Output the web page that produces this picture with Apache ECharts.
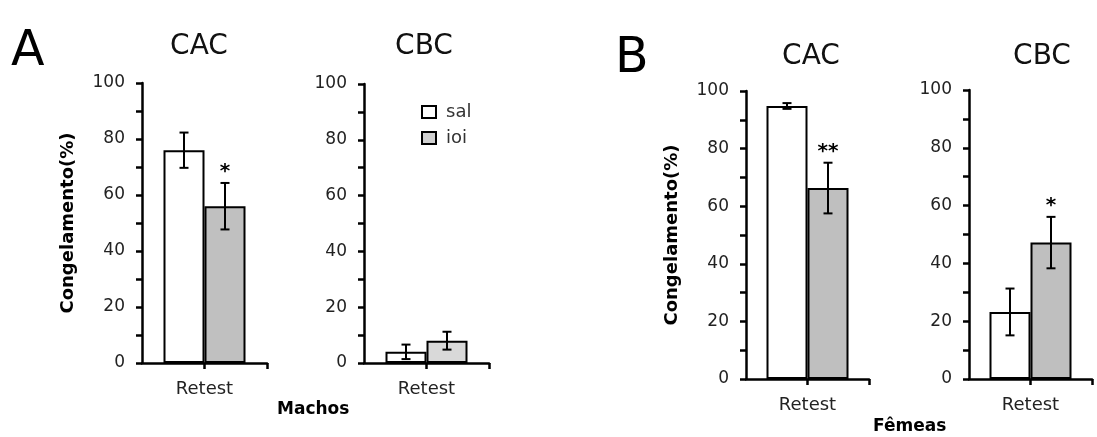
<!DOCTYPE html>
<html>
<head>
<meta charset="utf-8">
<script src="https://cdn.jsdelivr.net/npm/echarts@6/dist/echarts.min.js"></script>
<style>
  html, body { margin: 0; padding: 0; background: #fff; }
  #chart { width: 1097px; height: 437px; }
</style>
</head>
<body>
<div id="chart"></div>
<script>
    // ===== data =====
    var categories = ['Retest'];
    var panelTitles = ['CAC', 'CBC', 'CAC', 'CBC'];
    var salMeans = [76, 4, 94.8, 23.2];
    var salErr = [6.3, 2.6, 1.0, 8.1];
    var ioiMeans = [56, 8, 66.3, 47.2];
    var ioiErr = [8.3, 3.2, 8.8, 8.9];
    var sigMarks = ['*', '', '**', '*'];
    var yMin = 0, yMax = 100, yStep = 20;

    var FONT = 'DejaVu Sans';
    var barW = 41;
    var ioiColors = ['#c0c0c0', '#d9d9d9', '#bfbfbf', '#bfbfbf'];
    var grids = [
        { left: 142, top: 83, width: 125, height: 280 },
        { left: 364, top: 84, width: 125, height: 279 },
        { left: 746, top: 91, width: 123, height: 288 },
        { left: 969, top: 90, width: 123, height: 289 }
    ];
    var axisLine = { color: '#000', width: 2.5 };

    var xAxes = [], yAxes = [], series = [];
    grids.forEach(function (g, i) {
        xAxes.push({
            type: 'category', gridIndex: i, data: categories,
            axisLine: { lineStyle: axisLine },
            axisTick: { show: true, alignWithLabel: true, length: 6, lineStyle: axisLine },
            axisLabel: { color: '#222', fontSize: 18, fontFamily: FONT, margin: 17 }
        });
        yAxes.push({
            type: 'value', gridIndex: i, min: yMin, max: yMax, interval: yStep,
            name: (i % 2 === 0) ? 'Congelamento(%)' : '',
            nameLocation: 'middle', nameGap: 65, nameRotate: 90,
            nameTextStyle: { color: '#000', fontSize: 18, fontWeight: 'bold', fontFamily: FONT },
            axisLine: { show: true, lineStyle: axisLine },
            axisTick: { show: true, length: 6, lineStyle: axisLine },
            minorTick: { show: true, splitNumber: 2, length: 6, lineStyle: axisLine },
            splitLine: { show: false },
            axisLabel: { color: '#222', fontSize: 17, fontFamily: FONT, margin: 17 }
        });
        series.push({
            name: 'sal', type: 'bar', xAxisIndex: i, yAxisIndex: i,
            barWidth: barW, barGap: '0%', data: [salMeans[i]],
            itemStyle: { color: '#fff', borderColor: '#000', borderWidth: 2 }
        });
        series.push({
            name: 'ioi', type: 'bar', xAxisIndex: i, yAxisIndex: i,
            barWidth: barW, barGap: '0%', data: [ioiMeans[i]],
            itemStyle: { color: ioiColors[i], borderColor: '#000', borderWidth: 2 }
        });
        series.push({
            type: 'custom', xAxisIndex: i, yAxisIndex: i, z: 10, silent: true,
            data: [[0, salMeans[i], salErr[i], -1], [0, ioiMeans[i], ioiErr[i], 1]],
            renderItem: function (params, api) {
                var x = api.value(0), m = api.value(1), e = api.value(2), side = api.value(3);
                var hi = api.coord([x, m + e]), lo = api.coord([x, m - e]);
                var cx = hi[0] + side * barW / 2;
                var st = { stroke: '#000', lineWidth: 2 };
                var kids = [
                    { type: 'line', shape: { x1: cx, y1: hi[1], x2: cx, y2: lo[1] }, style: st },
                    { type: 'line', shape: { x1: cx - 4.5, y1: hi[1], x2: cx + 4.5, y2: hi[1] }, style: st },
                    { type: 'line', shape: { x1: cx - 4.5, y1: lo[1], x2: cx + 4.5, y2: lo[1] }, style: st }
                ];
                if (side > 0 && sigMarks[i]) {
                    kids.push({
                        type: 'text',
                        style: {
                            x: cx, y: hi[1] - 1, text: sigMarks[i], align: 'center', verticalAlign: 'bottom',
                            fontSize: 20, fontWeight: 'bold', fontFamily: FONT, fill: '#000'
                        }
                    });
                }
                return { type: 'group', children: kids };
            }
        });
    });
    // tick at the right end of each category axis
    grids.forEach(function (g, i) {
        xAxes.push({
            type: 'value', gridIndex: i, min: 0, max: 1, position: 'bottom',
            axisLine: { show: false }, axisLabel: { show: false }, splitLine: { show: false },
            axisTick: { show: true, length: 6, lineStyle: axisLine, customValues: [1] }
        });
    });

    var titleStyle = { fontSize: 28, fontWeight: 'normal', fontFamily: FONT, color: '#111' };
    var chart = echarts.init(document.getElementById('chart'));
    chart.setOption({
        animation: false,
        backgroundColor: '#fff',
        grid: grids,
        xAxis: xAxes,
        yAxis: yAxes,
        legend: {
            orient: 'vertical', left: 416, top: 98, itemGap: 8,
            itemWidth: 14, itemHeight: 12, selectedMode: false,
            textStyle: { fontSize: 18, fontFamily: FONT, color: '#333', padding: [0, 0, 0, 5] },
            data: [
                { name: 'sal', icon: 'rect', itemStyle: { color: '#fff', borderColor: '#000', borderWidth: 2 } },
                { name: 'ioi', icon: 'rect', itemStyle: { color: '#d0d0d0', borderColor: '#000', borderWidth: 2 } }
            ]
        },
        title: [
            { text: panelTitles[0], left: 194, top: 28, textAlign: 'center', textStyle: titleStyle },
            { text: panelTitles[1], left: 419, top: 28, textAlign: 'center', textStyle: titleStyle },
            { text: panelTitles[2], left: 806, top: 38, textAlign: 'center', textStyle: titleStyle },
            { text: panelTitles[3], left: 1037, top: 38, textAlign: 'center', textStyle: titleStyle },
            { text: 'A', left: 6, top: 23, textStyle: { fontSize: 49, fontWeight: 'normal', fontFamily: FONT, color: '#000' } },
            { text: 'B', left: 610, top: 30, textStyle: { fontSize: 49, fontWeight: 'normal', fontFamily: FONT, color: '#000' } },
            { text: 'Machos', left: 272, top: 396, textStyle: { fontSize: 17, fontWeight: 'bold', fontFamily: FONT, color: '#000' } },
            { text: 'Fêmeas', left: 868, top: 413, textStyle: { fontSize: 17, fontWeight: 'bold', fontFamily: FONT, color: '#000' } }
        ],
        series: series
    });
</script>
</body>
</html>
